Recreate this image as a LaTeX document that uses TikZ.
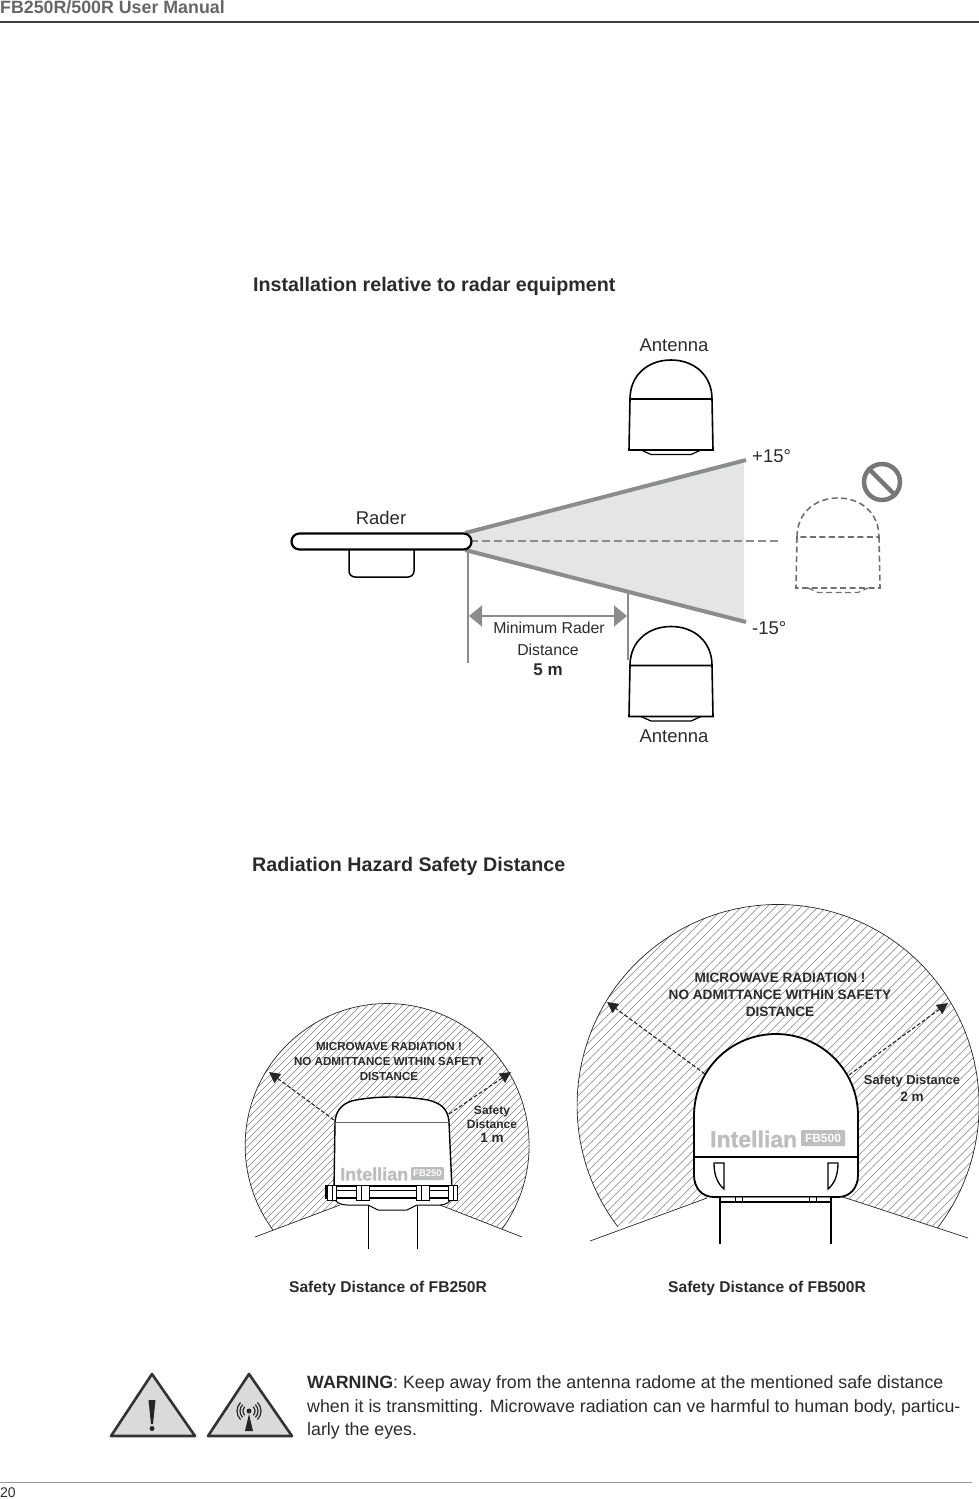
\documentclass[tikz,border=0pt]{standalone}
\usepackage{fontspec}
\setmainfont{Liberation Sans}
\newfontfamily\logofont[UprightFont={* Bold},FakeBold=1.4]{Liberation Sans}
\usetikzlibrary{arrows.meta}
\definecolor{inkgray}{HTML}{2B2B2D}
\definecolor{beamgray}{HTML}{8C8C8F}
\definecolor{beamfill}{HTML}{E4E5E7}
\definecolor{logogray}{HTML}{BDBEC0}
\definecolor{signfill}{HTML}{D9DADB}

\begin{document}
\begin{tikzpicture}[
    x=1pt, y=-1pt,
    title/.style={font=\bfseries\fontsize{19.7}{23}\selectfont, text=inkgray, anchor=west, inner sep=0pt},
    plain/.style={font=\fontsize{18.5}{22}\selectfont, text=inkgray, inner sep=0pt},
    small/.style={font=\fontsize{15.8}{18}\selectfont, text=inkgray, inner sep=0pt},
    caption/.style={font=\bfseries\fontsize{15.6}{18}\selectfont, text=inkgray, inner sep=0pt},
    warnA/.style={font=\bfseries\fontsize{12}{14.6}\selectfont, text=inkgray, align=center, inner sep=0pt},
    warnB/.style={font=\bfseries\fontsize{13.6}{17}\selectfont, text=inkgray, align=center, inner sep=0pt},
    solidline/.style={draw=black, line width=1.5pt},
    beam/.style={draw=beamgray, line width=4pt},
    dimline/.style={draw=beamgray, line width=1.8pt},
    dimarrow/.style={{Triangle[length=13pt,width=21pt]}-{Triangle[length=13pt,width=21pt]}, draw=beamgray, fill=beamgray, line width=1.8pt},
    hatch/.style={draw=black!50, line width=0.4pt},
    edge/.style={draw=black!85, line width=0.7pt},
    safety/.style={-{Triangle[length=11pt,width=11pt]}, dashed, draw=black!85, line width=1.1pt, dash pattern=on 4pt off 2pt},
    radome/.pic={
        \draw [line width=1.6pt] (-41,0) .. controls (-41,-24) and (-23,-39) .. (0,-39) .. controls (23,-39) and (41,-24) .. (41,0) -- cycle;
        \draw [line width=1.6pt] (-41,0) -- (-42,51) -- (42,51) -- (41,0);
        \draw [line width=1.2pt] (-30,51) -- (-20,55.5) -- (20,55.5) -- (30,51);
    }
]
\useasboundingbox (0,0) rectangle (979,1499);

% header and footer
\node (header) [font=\bfseries\fontsize{17.8}{20}\selectfont, text=black!60, anchor=west, inner sep=0pt] at (0,7) {FB250R/500R User Manual};
\coordinate (headL) at (0,22);
\coordinate (headR) at (979,22);
\draw [draw=black!75, line width=2pt] (headL) -- (headR);
\coordinate (footL) at (0,1482);
\coordinate (footR) at (972,1482);
\draw [draw=black!40, line width=0.6pt] (footL) -- (footR);
\node (pageno) [font=\fontsize{14}{16}\selectfont, text=inkgray, anchor=west, inner sep=0pt] at (0,1493) {20};

% radar section
\node (titleA) [title] at (253,286) {Installation relative to radar equipment};
\coordinate (apex) at (470,541);
\coordinate (beamU) at (746,460);
\coordinate (beamL) at (746,622);
\coordinate (beamUs) at (465,533);
\coordinate (beamLs) at (465,550);
\fill [beamfill] (apex) -- (beamUs) -- (744,461) -- (744,621) -- (beamLs) -- cycle;
\draw [beam] (beamUs) -- (beamU);
\draw [beam] (beamLs) -- (beamL);
\coordinate (axisEnd) at (780,541);
\draw [draw=beamgray, line width=1.8pt, dash pattern=on 8pt off 4pt] (apex) -- (axisEnd);

\draw [solidline, fill=white, rounded corners=6pt] (349,548) -- (349,577) -- (414,577) -- (414,548);
\node (raderbody) [draw=black, line width=2.2pt, fill=white, rounded corners=8pt, minimum width=180pt, minimum height=16pt, inner sep=0pt] at (381.5,541.5) {};
\node (rader) [plain] at (381,518) {Rader};

\coordinate (dimAa) at (468,550);
\coordinate (dimAb) at (468,663);
\coordinate (dimBa) at (628,594);
\coordinate (dimBb) at (628,660);
\draw [dimline] (dimAa) -- (dimAb);
\draw [dimline] (dimBa) -- (dimBb);
\coordinate (dimL) at (469,616);
\coordinate (dimR) at (627,616);
\draw [dimarrow] (dimL) -- (dimR);
\node (minA) [small] at (549,628) {Minimum Rader};
\node (minB) [small] at (548,650) {Distance};
\node (minC) [caption, font=\bfseries\fontsize{17}{19}\selectfont] at (548,670) {5 m};

\pic [draw=black] at (671,399) {radome};
\pic [draw=black] at (671,665.5) {radome};
\pic [draw=beamgray!80!black, dashed, dash pattern=on 6pt off 3.5pt] at (838,537) {radome};
\node (antA) [plain] at (674,345) {Antenna};
\node (antB) [plain] at (674,736) {Antenna};
\node (plus) [plain, anchor=west] at (752,456) {+15°};
\node (minus) [plain, anchor=west] at (752,628) {-15°};

\node (nosign) [circle, draw=beamgray!85!black, line width=4.5pt, minimum size=36pt, inner sep=0pt] at (882,482) {};
\draw [draw=beamgray!85!black, line width=4.5pt] (nosign.135) -- (nosign.-45);

% safety distance section
\node (titleB) [title] at (252,866) {Radiation Hazard Safety Distance};

% FB250R
\begin{scope}
\clip (273,1230) arc[start angle=143.5, end angle=395.8, radius=142] -- (440,1205) -- (340,1205) -- cycle;
\foreach \x in {240,247,...,800} \draw [hatch] (\x,1000) -- ++(-300,300);
\end{scope}
\draw [edge] (273,1230) arc[start angle=143.5, end angle=395.8, radius=142];
\coordinate (smallLa) at (255,1237);
\coordinate (smallLb) at (340,1205);
\coordinate (smallRa) at (522,1237);
\coordinate (smallRb) at (440,1205);
\draw [edge] (smallLa) -- (smallLb);
\draw [edge] (smallRa) -- (smallRb);

\draw [fill=white, line width=1.4pt] (334,1190) -- (335,1122) .. controls (336,1108) and (345,1102) .. (356,1100) .. controls (378,1096) and (405,1096) .. (428,1100) .. controls (440,1103) and (448,1108) .. (449,1122) -- (452,1190) -- cycle;
\draw [draw=black!60, line width=1pt] (335,1122) -- (449,1122);
\draw [fill=white, line width=1pt] (332,1197) .. controls (336,1202) and (340,1205) .. (347,1205) -- (368,1205) -- (378,1210) -- (407,1210) -- (417,1205) -- (440,1205) .. controls (446,1205) and (450,1202) .. (453,1197) -- cycle;
\draw [fill=white, line width=1.3pt] (326,1186) rectangle (457,1198);
\draw [line width=0.8pt] (326,1190) -- (457,1190);
\foreach \x in {327,356,416,448} {
    \draw [fill=white, line width=0.8pt] (\x,1185) rectangle ++(\ifnum\x<340 9\else\ifnum\x>440 9\else 13\fi\fi,15);
    \draw [line width=0.8pt] (\x+5,1185) -- ++(0,15);
}
\coordinate (legAt) at (368,1206);
\coordinate (legAb) at (368,1249);
\coordinate (legBt) at (417,1206);
\coordinate (legBb) at (417,1249);
\draw [line width=1pt] (legAt) -- (legAb);
\draw [line width=1pt] (legBt) -- (legBb);

\node (logoA) [font=\logofont\fontsize{18}{20}\selectfont, text=logogray, anchor=west, inner sep=0pt] at (340,1174) {Intellian};
\node (badgeA) [fill=logogray, rounded corners=1pt, text=white, font=\bfseries\fontsize{9.5}{10}\selectfont, minimum width=33pt, minimum height=13pt, inner sep=0pt] at (427.5,1173.5) {FB250};

\coordinate (arrLa) at (334,1120);
\coordinate (arrLb) at (269,1072);
\coordinate (arrRa) at (449,1114);
\coordinate (arrRb) at (511,1072);
\draw [safety] (arrLa) -- (arrLb);
\draw [safety] (arrRa) -- (arrRb);
\node (noticeA) [warnA, font=\bfseries\fontsize{11.6}{14.6}\selectfont] at (389,1061.5) {MICROWAVE RADIATION !\\NO ADMITTANCE WITHIN SAFETY\\DISTANCE};
\node (distA) [warnA] at (492,1117) {Safety\\Distance};
\node (distAm) [warnB] at (492,1138) {1 m};
\node (capA) [caption] at (388,1288) {Safety Distance of FB250R};

% FB500R
\begin{scope}
\clip (618,1227) arc[start angle=142.8, end angle=397.5, radius=201] -- (843,1197) -- (707,1198) -- cycle;
\foreach \x in {570,578.5,...,1360} \draw [hatch] (\x,900) -- ++(-400,400);
\end{scope}
\draw [edge] (618,1227) arc[start angle=142.8, end angle=397.5, radius=201];
\coordinate (bigLa) at (590,1241);
\coordinate (bigLb) at (707,1198);
\coordinate (bigRa) at (968,1238);
\coordinate (bigRb) at (843,1197);
\draw [edge] (bigLa) -- (bigLb);
\draw [edge] (bigRa) -- (bigRb);

\draw [fill=white, line width=1.8pt] (694,1157) -- (694,1116) .. controls (694,1070) and (731,1034) .. (776,1034) .. controls (821,1034) and (858,1070) .. (858,1116) -- (858,1175) .. controls (858,1188) and (850,1197) .. (838,1197) -- (714,1197) .. controls (702,1197) and (694,1188) .. (694,1175) -- cycle;
\draw [line width=1.2pt] (694,1157) -- (858,1157);
\draw [line width=1.3pt] (714,1163) -- (724,1163) -- (724,1189) .. controls (718,1184) and (714,1176) .. (714,1163) -- cycle;
\draw [line width=1.3pt] (838,1163) -- (828,1163) -- (828,1189) .. controls (834,1184) and (838,1176) .. (838,1163) -- cycle;
\draw [fill=white, draw=none] (720,1197) rectangle (831,1202);
\draw [draw=black!50, line width=0.6pt] (720,1197) -- (831,1197);
\draw [line width=1.4pt] (720,1202) -- (831,1202);
\foreach \x in {735,742,809,816} \draw [line width=0.6pt] (\x,1197) -- (\x,1202);
\coordinate (legCt) at (720,1197);
\coordinate (legCb) at (720,1244);
\coordinate (legDt) at (831,1197);
\coordinate (legDb) at (831,1244);
\draw [line width=1.2pt] (legCt) -- (legCb);
\draw [line width=1.2pt] (legDt) -- (legDb);

\node (logoB) [font=\logofont\fontsize{23}{26}\selectfont, text=logogray, anchor=west, inner sep=0pt] at (710,1139) {Intellian};
\node (badgeB) [fill=logogray, rounded corners=1pt, text=white, font=\bfseries\fontsize{12}{13}\selectfont, minimum width=44pt, minimum height=16pt, inner sep=0pt] at (823,1138) {FB500};

\coordinate (arrLc) at (705,1074);
\coordinate (arrLd) at (607,1002);
\coordinate (arrRc) at (849,1075);
\coordinate (arrRd) at (948,1003);
\draw [safety] (arrLc) -- (arrLd);
\draw [safety] (arrRc) -- (arrRd);
\node (noticeB) [warnB] at (780,995) {MICROWAVE RADIATION !\\NO ADMITTANCE WITHIN SAFETY\\DISTANCE};
\node (distB) [warnA, font=\bfseries\fontsize{12.9}{14}\selectfont] at (912,1081) {Safety Distance};
\node (distBm) [warnB] at (912,1097) {2 m};
\node (capB) [caption] at (767,1288) {Safety Distance of FB500R};

% warning
\draw [draw=black!80, fill=signfill, line width=2.6pt, line join=round] (152,1374) -- (195,1436) -- (111,1436) -- cycle;
\draw [draw=black!80, fill=signfill, line width=2.6pt, line join=round] (249,1374) -- (292,1436) -- (208,1436) -- cycle;
\fill [black!85] (148.5,1400) -- (155.5,1400) -- (153,1424) -- (151,1424) -- cycle;
\fill [black!85] (152,1428.5) circle (2.5);
\fill [black!85] (249,1411) circle (2.5);
\fill [black!85] (249,1414) -- (253,1431) -- (245,1431) -- cycle;
\foreach \r in {6,9,12} {
    \draw [black!85, line width=1.2pt] ([shift={(-45:\r)}]249,1411) arc[start angle=-45, end angle=45, radius=\r];
    \draw [black!85, line width=1.2pt] ([shift={(135:\r)}]249,1411) arc[start angle=135, end angle=225, radius=\r];
}
\node (warning) [font=\fontsize{17.8}{23.5}\selectfont, text=inkgray, anchor=north west, align=left, inner sep=0pt] at (307,1375.5) {\textbf{WARNING}: Keep away from the antenna radome at the mentioned safe distance\\when it is transmitting. Microwave radiation can ve harmful to human body, particu-\\larly the eyes.};
\end{tikzpicture}
\end{document}
